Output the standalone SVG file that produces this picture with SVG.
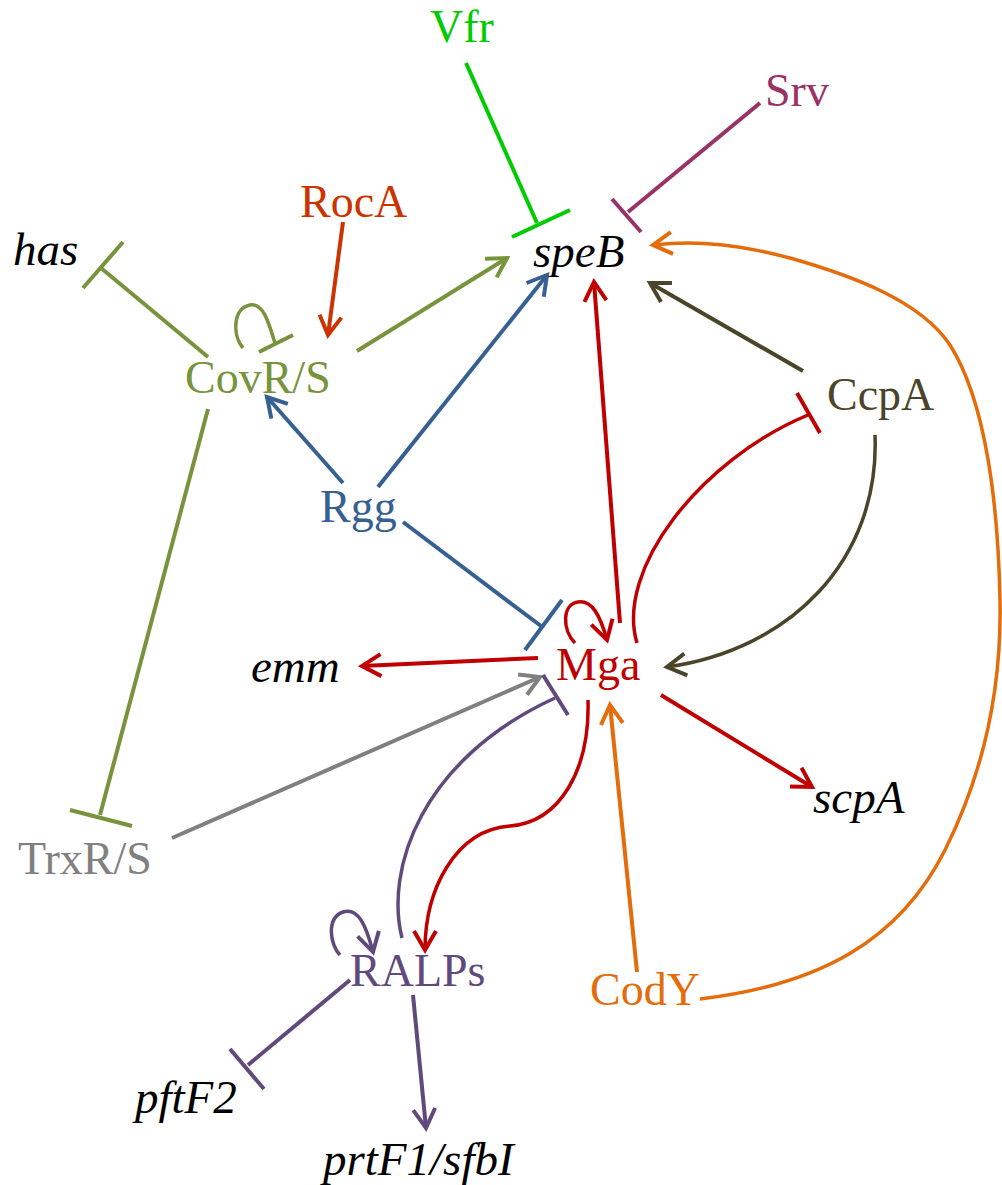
<svg xmlns="http://www.w3.org/2000/svg" width="1002" height="1185" viewBox="0 0 1002 1185">
  <style>
    text { font-family: "Liberation Serif", "Times New Roman", serif; font-size: 46px; }
    .gene { font-style: italic; fill: #000000; font-size: 47px; }
    .edge { fill: none; stroke-width: 4; stroke-linecap: butt; }
    .curve { fill: none; stroke-width: 3.5; }
    .head { fill: none; stroke-width: 4; stroke-linejoin: miter; }
  </style>
  <defs>
    <marker id="ah-red" markerUnits="userSpaceOnUse" viewBox="-24 -16 28 32" markerWidth="28" markerHeight="32" refX="0" refY="0" orient="auto" overflow="visible">
      <path class="head" d="M-19,-11 L0,0 L-19,11" stroke="#c00000"/>
    </marker>
    <marker id="ah-roca" markerUnits="userSpaceOnUse" viewBox="-24 -16 28 32" markerWidth="28" markerHeight="32" refX="0" refY="0" orient="auto" overflow="visible">
      <path class="head" d="M-19,-11 L0,0 L-19,11" stroke="#cc3300"/>
    </marker>
    <marker id="ah-cov" markerUnits="userSpaceOnUse" viewBox="-24 -16 28 32" markerWidth="28" markerHeight="32" refX="0" refY="0" orient="auto" overflow="visible">
      <path class="head" d="M-19,-11 L0,0 L-19,11" stroke="#77933c"/>
    </marker>
    <marker id="ah-rgg" markerUnits="userSpaceOnUse" viewBox="-24 -16 28 32" markerWidth="28" markerHeight="32" refX="0" refY="0" orient="auto" overflow="visible">
      <path class="head" d="M-19,-11 L0,0 L-19,11" stroke="#366092"/>
    </marker>
    <marker id="ah-ccpa" markerUnits="userSpaceOnUse" viewBox="-24 -16 28 32" markerWidth="28" markerHeight="32" refX="0" refY="0" orient="auto" overflow="visible">
      <path class="head" d="M-19,-11 L0,0 L-19,11" stroke="#4a452a"/>
    </marker>
    <marker id="ah-trx" markerUnits="userSpaceOnUse" viewBox="-24 -16 28 32" markerWidth="28" markerHeight="32" refX="0" refY="0" orient="auto" overflow="visible">
      <path class="head" d="M-19,-11 L0,0 L-19,11" stroke="#808080"/>
    </marker>
    <marker id="ah-ralp" markerUnits="userSpaceOnUse" viewBox="-24 -16 28 32" markerWidth="28" markerHeight="32" refX="0" refY="0" orient="auto" overflow="visible">
      <path class="head" d="M-19,-11 L0,0 L-19,11" stroke="#604a7b"/>
    </marker>
    <marker id="ah-cody" markerUnits="userSpaceOnUse" viewBox="-24 -16 28 32" markerWidth="28" markerHeight="32" refX="0" refY="0" orient="auto" overflow="visible">
      <path class="head" d="M-19,-11 L0,0 L-19,11" stroke="#e46c0a"/>
    </marker>
  </defs>

  <rect x="0" y="0" width="1002" height="1185" fill="#ffffff"/>

  <g id="connectors">
    <!-- Vfr inhibits speB -->
    <g stroke="#00cc00">
      <line class="edge" x1="466" y1="63" x2="537" y2="223"/>
      <line class="edge" x1="512" y1="237" x2="570" y2="210"/>
    </g>
    <!-- Srv inhibits speB -->
    <g stroke="#993366">
      <line class="edge" x1="760" y1="103" x2="628" y2="212"/>
      <line class="edge" x1="612" y1="199" x2="641" y2="232"/>
    </g>
    <!-- CodY activates speB (long loop on the right) -->
    <path class="curve" stroke="#e46c0a" marker-end="url(#ah-cody)"
          d="M700,999 C820,985 900,940 945,850 C980,780 1002,700 1000,600 C998,500 985,400 950,345 C920,300 850,275 790,258 C740,245 700,240 653,245"/>
    <!-- RocA activates CovR/S -->
    <line class="edge" stroke="#cc3300" x1="343" y1="222" x2="328" y2="335" marker-end="url(#ah-roca)"/>
    <!-- CovR/S inhibits has -->
    <g stroke="#77933c">
      <line class="edge" x1="208" y1="357" x2="101" y2="268"/>
      <line class="edge" x1="83" y1="288" x2="123" y2="242"/>
    </g>
    <!-- CovR/S self-repression -->
    <g stroke="#77933c">
      <path class="curve" d="M243,348 C232,335 233,308 250,305 C263,303 268,320 275,343"/>
      <line class="edge" x1="259" y1="352" x2="293" y2="335"/>
    </g>
    <!-- CovR/S activates speB -->
    <line class="edge" stroke="#77933c" x1="357" y1="351" x2="507" y2="258" marker-end="url(#ah-cov)"/>
    <!-- CovR/S inhibits TrxR/S -->
    <g stroke="#77933c">
      <line class="edge" x1="208" y1="409" x2="100" y2="815"/>
      <line class="edge" x1="70" y1="810" x2="132" y2="826"/>
    </g>
    <!-- Rgg edges -->
    <line class="edge" stroke="#366092" x1="343" y1="483" x2="267" y2="397" marker-end="url(#ah-rgg)"/>
    <line class="edge" stroke="#366092" x1="378" y1="487" x2="547" y2="275" marker-end="url(#ah-rgg)"/>
    <g stroke="#366092">
      <line class="edge" x1="403" y1="522" x2="541" y2="626"/>
      <line class="edge" x1="525" y1="650" x2="562" y2="600"/>
    </g>
    <!-- Mga edges -->
    <line class="edge" stroke="#c00000" x1="620" y1="623" x2="594" y2="282" marker-end="url(#ah-red)"/>
    <path class="curve" stroke="#c00000" marker-end="url(#ah-red)"
          d="M575,643 C562,630 562,604 578,602 C592,600 600,615 607,640"/>
    <g stroke="#c00000">
      <path class="curve" d="M637,643 C615,570 700,460 808,415"/>
      <line class="edge" x1="797" y1="393" x2="820" y2="433"/>
    </g>
    <line class="edge" stroke="#c00000" x1="538" y1="658" x2="362" y2="666" marker-end="url(#ah-red)"/>
    <line class="edge" stroke="#c00000" x1="661" y1="695" x2="812" y2="787" marker-end="url(#ah-red)"/>
    <path class="curve" stroke="#c00000" marker-end="url(#ah-red)"
          d="M588,700 C590,770 560,822 510,826 C455,830 425,890 425,950"/>
    <!-- CcpA edges -->
    <line class="edge" stroke="#4a452a" x1="803" y1="371" x2="650" y2="283" marker-end="url(#ah-ccpa)"/>
    <path class="curve" stroke="#4a452a" marker-end="url(#ah-ccpa)"
          d="M875,435 C880,560 790,650 667,667"/>
    <!-- TrxR/S activates Mga -->
    <line class="edge" stroke="#808080" x1="172" y1="838" x2="540" y2="677" marker-end="url(#ah-trx)"/>
    <!-- RALPs edges -->
    <g stroke="#604a7b">
      <path class="curve" d="M402,938 C385,870 420,760 555,698"/>
      <line class="edge" x1="543" y1="675" x2="568" y2="715"/>
    </g>
    <path class="curve" stroke="#604a7b" marker-end="url(#ah-ralp)"
          d="M340,955 C330,945 326,918 343,912 C358,907 366,925 373,952"/>
    <g stroke="#604a7b">
      <line class="edge" x1="350" y1="980" x2="248" y2="1065"/>
      <line class="edge" x1="230" y1="1049" x2="264" y2="1089"/>
    </g>
    <line class="edge" stroke="#604a7b" x1="413" y1="995" x2="426" y2="1128" marker-end="url(#ah-ralp)"/>
    <!-- CodY activates Mga -->
    <line class="edge" stroke="#e46c0a" x1="637" y1="972" x2="610" y2="705" marker-end="url(#ah-cody)"/>
  </g>

  <g id="node-vfr"><text x="430" y="42" fill="#00cc00">Vfr</text></g>
  <g id="node-srv"><text x="765" y="106" fill="#993366">Srv</text></g>
  <g id="node-speB"><text class="gene" x="533" y="267">speB</text></g>
  <g id="node-roca"><text x="300" y="217" fill="#cc3300">RocA</text></g>
  <g id="node-has"><text class="gene" x="13" y="265">has</text></g>
  <g id="node-covrs"><text x="185" y="393" fill="#77933c">CovR/S</text></g>
  <g id="node-rgg"><text x="320" y="522" fill="#366092">Rgg</text></g>
  <g id="node-ccpa"><text x="827" y="410" fill="#4a452a">CcpA</text></g>
  <g id="node-mga"><text x="556" y="680" fill="#c00000">Mga</text></g>
  <g id="node-emm"><text class="gene" x="251" y="682">emm</text></g>
  <g id="node-scpA"><text class="gene" x="813" y="813">scpA</text></g>
  <g id="node-trxrs"><text x="18" y="874" fill="#808080">TrxR/S</text></g>
  <g id="node-ralps"><text x="350" y="986" fill="#604a7b">RALPs</text></g>
  <g id="node-cody"><text x="590" y="1005" fill="#e46c0a">CodY</text></g>
  <g id="node-pftF2"><text class="gene" x="135" y="1113">pftF2</text></g>
  <g id="node-prtF1"><text class="gene" x="323" y="1175">prtF1/sfbI</text></g>
</svg>
